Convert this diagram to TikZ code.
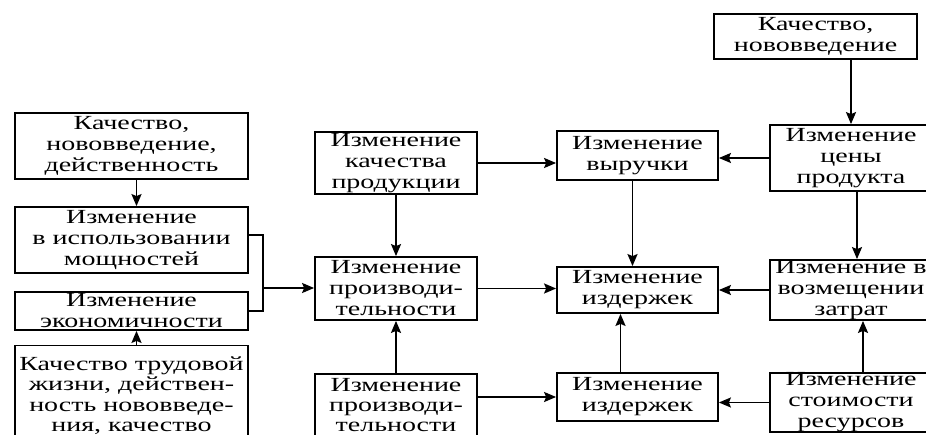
\documentclass[tikz,border=0pt]{standalone}
\usepackage{fontspec}
\setmainfont[FakeStretch=1.4]{Liberation Serif}
\usetikzlibrary{positioning,arrows.meta,calc}

\begin{document}
\begin{tikzpicture}[
x=1pt,y=-1pt,
>={Stealth[length=12pt,width=10pt,inset=2pt]},
block/.style={
	draw,
	line width=1.8pt,
	align=center,
	inner sep=0pt,
	font=\fontsize{20}{21}\selectfont
},
link/.style={
	->,
	line width=1.8pt
}
]
\useasboundingbox (0,0) rectangle (926,435);
\clip (0,0) rectangle (926,435);

% left column
\node[block,minimum width=233,minimum height=66] (k1) at (131.5,146) {Качество,\\нововведение,\\действенность};
\node[block,minimum width=233,minimum height=66] (isp) at (131.5,240) {Изменение\\в использовании\\мощностей};
\node[block,minimum width=233,minimum height=38] (ekon) at (131.5,311) {Изменение\\экономичности};
\node[block,minimum width=233,minimum height=100,font=\fontsize{20}{20.5}\selectfont] (trud) at (131.5,395.5) {Качество трудовой\\жизни, действен-\\ность нововведе-\\ния, качество};

% second column
\node[block,minimum width=162,minimum height=62] (kach) at (396,163) {Изменение\\качества\\продукции};
\node[block,minimum width=162,minimum height=63] (proizv) at (396,288.5) {Изменение\\производи-\\тельности};
\node[block,minimum width=162,minimum height=62,font=\fontsize{20}{20}\selectfont] (proizv2) at (396,405) {Изменение\\производи-\\тельности};

% third column
\node[block,minimum width=161,minimum height=49] (vyr) at (637.5,155.5) {Изменение\\выручки};
\node[block,minimum width=161,minimum height=46] (izd) at (637.5,290) {Изменение\\издержек};
\node[block,minimum width=161,minimum height=48] (izd2) at (637.5,397) {Изменение\\издержек};

% right column
\node[block,minimum width=203,minimum height=45] (kn) at (815.5,36.5) {Качество,\\нововведение};
\node[block,minimum width=162,minimum height=66] (cena) at (851,158) {Изменение\\цены\\продукта};
\node[block,minimum width=162,minimum height=60] (vozm) at (851,290) {Изменение в\\возмещении\\затрат};
\node[block,minimum width=162,minimum height=59] (stoim) at (851,402.5) {Изменение\\стоимости\\ресурсов};

% bracket
\coordinate (br) at (263,288);
\draw[line width=1.8pt] ([yshift=5]isp.east) -| (br) |- (ekon.east);
\draw[link] (br) -- (br -| proizv.west);

\draw[link] ([xshift=5]k1.south) -- ([xshift=5]k1.south |- isp.north);
\draw[link] ([xshift=5]trud.north) -- ([xshift=5]trud.north |- ekon.south);

\draw[link] (kach) -- (proizv);
\draw[link] (proizv2.north) -- (proizv.south);
\draw[link] (kach.east) -- (kach.east -| vyr.west);
\draw[link] (proizv.east) -- (proizv.east -| izd.west);
\draw[link] (izd2.west -| proizv2.east) -- (izd2.west);

\draw[link] ([xshift=-5]vyr.south) -- ([xshift=-5]vyr.south |- izd.north);
\draw[link] ([xshift=-17]izd2.north) -- ([xshift=-17]izd2.north |- izd.south);

\draw[link] (kn.south -| cena) -- (cena.north);
\draw[link] (cena.west) -- (cena.west -| vyr.east);
\draw[link] ([xshift=6]cena.south) -- ([xshift=6]cena.south |- vozm.north);
\draw[link] (vozm.west) -- (vozm.west -| izd.east);
\draw[link] ([xshift=12]stoim.north) -- ([xshift=12]stoim.north |- vozm.south);
\draw[link] (stoim.west) -- (stoim.west -| izd2.east);
\end{tikzpicture}
\end{document}
